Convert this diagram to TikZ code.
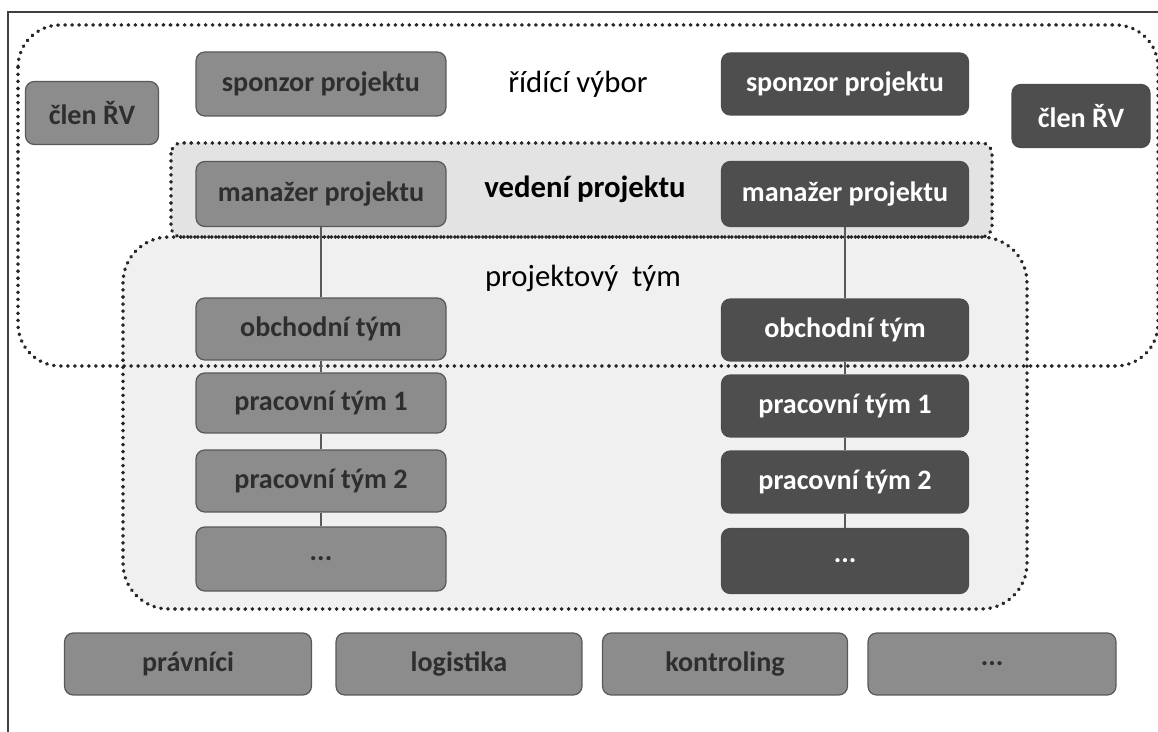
\documentclass[tikz,border=0pt]{standalone}
\usepackage{fontspec}
\setmainfont{Carlito}
\usepackage{tikz}
\usepackage{xcolor}
\usetikzlibrary{arrows.meta}

\definecolor{boxlight}{HTML}{8C8C8C}
\definecolor{boxdark}{HTML}{4E4E4E}
\definecolor{rimgray}{HTML}{595959}
\definecolor{zonegray}{HTML}{F0F0F0}
\definecolor{leadgray}{HTML}{E3E3E3}

\tikzset{
  unitbox/.style={draw=rimgray, line width=0.7pt, rounded corners=5pt, font=\fontsize{16}{18}\selectfont\bfseries, inner sep=0pt},
  lightbox/.style={unitbox, fill=boxlight, text=black!82},
  darkbox/.style={unitbox, fill=boxdark, draw=black!70, text=white},
  colbox/.style={minimum width=5cm, minimum height=1.24cm},
  dotline/.style={line width=2pt, dash pattern=on 0.3pt off 3.7pt, line cap=round, black!85},
  conn/.style={draw=rimgray, line width=1.1pt},
  zonelabel/.style={font=\fontsize{17.5}{20}\selectfont, text=black}
}

\begin{document}
\begin{tikzpicture}[x=0.02cm,y=-0.02cm]
  \useasboundingbox[fill=white] (0,0) rectangle (1158,732);
  % scan frame
  \draw[black!75, line width=1.2pt] (8,732) -- (8,12) -- (1158,12);
  % zones
  \fill[zonegray, rounded corners=26pt] (123,237) rectangle (1027,609);
  \fill[leadgray, rounded corners=6pt] (171,143) rectangle (992,237);
  \draw[dotline, rounded corners=24pt] (18,25) rectangle (1158,366);
  \draw[dotline, rounded corners=6pt] (171,143) rectangle (992,237);
  \draw[dotline, rounded corners=26pt] (123,237) rectangle (1027,609);
  \node[zonelabel] (ridici) at (578,84) {řídící výbor};
  \node[zonelabel, font=\fontsize{17.5}{20}\selectfont\bfseries] (vedeni) at (585,189) {vedení projektu};
  \node[zonelabel] (tym) at (583,278) {projektový~~tým};

  % left column
  \node[lightbox, colbox, minimum height=1.28cm] (sponzorL) at (321,84) {sponzor projektu};
  \node[lightbox, colbox, minimum height=1.3cm] (manazerL) at (321,194) {manažer projektu};
  \node[lightbox, colbox] (obchodL) at (321,329) {obchodní tým};
  \node[lightbox, colbox, minimum height=1.2cm] (prac1L) at (321,403) {pracovní tým 1};
  \node[lightbox, colbox] (prac2L) at (321,481) {pracovní tým 2};
  \node[lightbox, colbox, minimum height=1.28cm] (dalsiL) at (321,559) {...};
  \node[lightbox, minimum width=2.66cm, minimum height=1.26cm] (clenL) at (92,113) {člen ŘV};

  % right column
  \node[darkbox, colbox, minimum width=4.94cm] (sponzorR) at (845,84) {sponzor projektu};
  \node[darkbox, colbox, minimum width=4.94cm, minimum height=1.3cm] (manazerR) at (845,194) {manažer projektu};
  \node[darkbox, colbox, minimum width=4.94cm] (obchodR) at (845,330) {obchodní tým};
  \node[darkbox, colbox, minimum width=4.94cm] (prac1R) at (845,406) {pracovní tým 1};
  \node[darkbox, colbox, minimum width=4.94cm] (prac2R) at (845,482) {pracovní tým 2};
  \node[darkbox, colbox, minimum width=4.94cm, minimum height=1.3cm] (dalsiR) at (845,561) {...};
  \node[darkbox, minimum width=2.76cm, minimum height=1.26cm] (clenR) at (1081,116) {člen ŘV};

  % links
  \draw[conn] (manazerL) -- (obchodL) -- (prac1L) -- (prac2L) -- (dalsiL);
  \draw[conn] (manazerR) -- (obchodR) -- (prac1R) -- (prac2R) -- (dalsiR);

  % support units
  \node[lightbox, minimum width=4.94cm, minimum height=1.24cm] (pravnici) at (188,664) {právníci};
  \node[lightbox, minimum width=4.92cm, minimum height=1.24cm] (logistika) at (459,664) {logistika};
  \node[lightbox, minimum width=4.9cm, minimum height=1.24cm] (kontroling) at (725,664) {kontroling};
  \node[lightbox, minimum width=4.96cm, minimum height=1.24cm] (dalsi) at (992,664) {...};
\end{tikzpicture}
\end{document}
